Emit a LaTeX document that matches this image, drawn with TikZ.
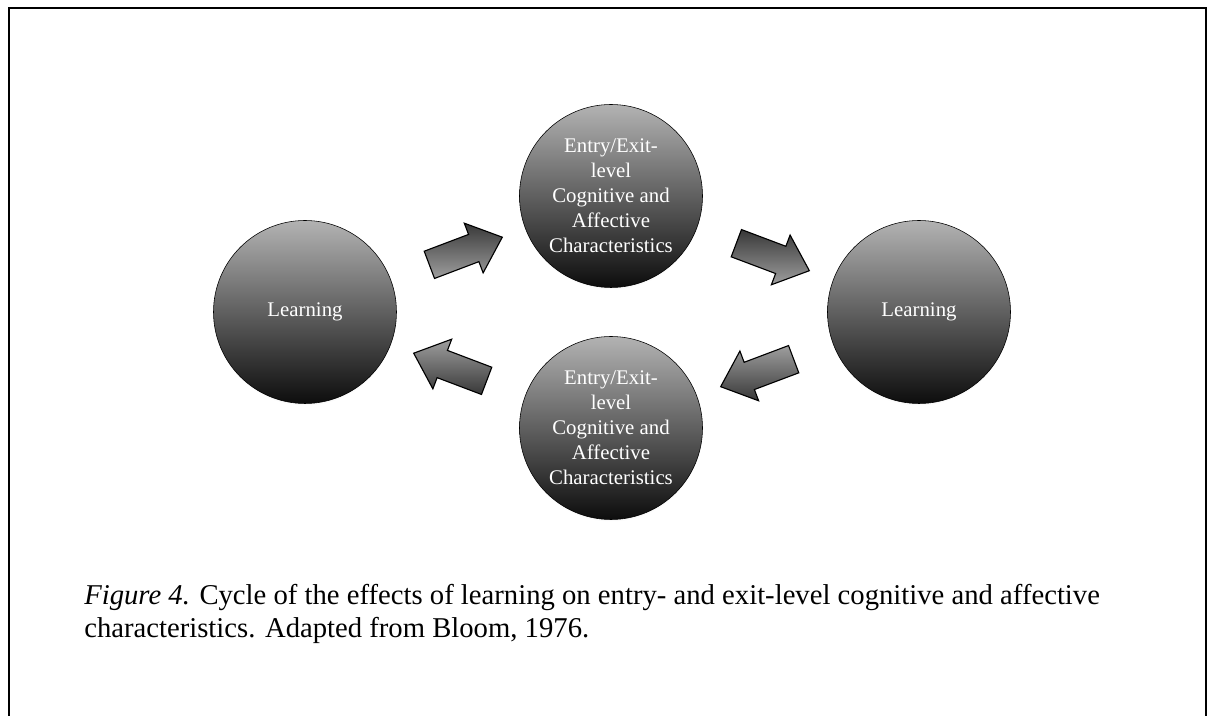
\documentclass[tikz,border=0pt]{standalone}
\usepackage{fontspec}
\setmainfont{Liberation Serif}
\usetikzlibrary{shapes.arrows, shadows, calc}

\tikzset{
  stage/.style={circle, draw=black, thin, minimum size=4.575cm, inner sep=0pt,
    top color=black!30, bottom color=black!95, text=white, align=center,
    font=\fontsize{14.8}{17.8}\selectfont,
    circular drop shadow={shadow xshift=0pt, shadow yshift=-1.5pt, shadow scale=1.0, opacity=0.3}},
  flowarrow/.style={single arrow, draw=black, line width=0.8pt,
    minimum height=1.95cm, inner xsep=0pt, inner ysep=0.35cm,
    single arrow head extend=0.3cm, single arrow tip angle=82,
    top color=black!78, bottom color=black!38,
    sloped, allow upside down},
  % arrows turned over keep the dark side on top
  backarrow/.style={flowarrow, top color=black!38, bottom color=black!78},
}

\begin{document}
\begin{tikzpicture}
  \useasboundingbox (0,0) rectangle (30.275,17.9);
  % page frame, open at the bottom
  \draw[line width=1.1pt] (0.225,0) -- (0.225,17.7) -- (30.15,17.7) -- (30.15,0);

  % the four stages of the cycle
  \node[stage] (learnL) at (7.625,10.1) {Learning};
  \node[stage] (charT) at (15.275,13.0)
    {Entry/Exit-\\level\\Cognitive and\\Affective\\Characteristics};
  \node[stage] (learnR) at (22.975,10.1) {Learning};
  \node[stage] (charB) at (15.275,7.2)
    {Entry/Exit-\\level\\Cognitive and\\Affective\\Characteristics};

  % block arrows between neighbouring stages
  \path (learnL) -- node[flowarrow] (arrTL) {} (charT);
  \path (charT) -- node[flowarrow] (arrTR) {} (learnR);
  \path (learnR) -- node[backarrow] (arrBR) {} (charB);
  \path (charB) -- node[backarrow] (arrBL) {} (learnL);

  % caption
  \node[anchor=west, align=left, inner sep=0pt, font=\fontsize{20.4}{23.5}\selectfont] (caption) at (2.1,2.55)
    {\textit{Figure 4.} Cycle of the effects of learning on entry- and exit-level cognitive and affective\\
     characteristics. Adapted from Bloom, 1976.};
\end{tikzpicture}
\end{document}
